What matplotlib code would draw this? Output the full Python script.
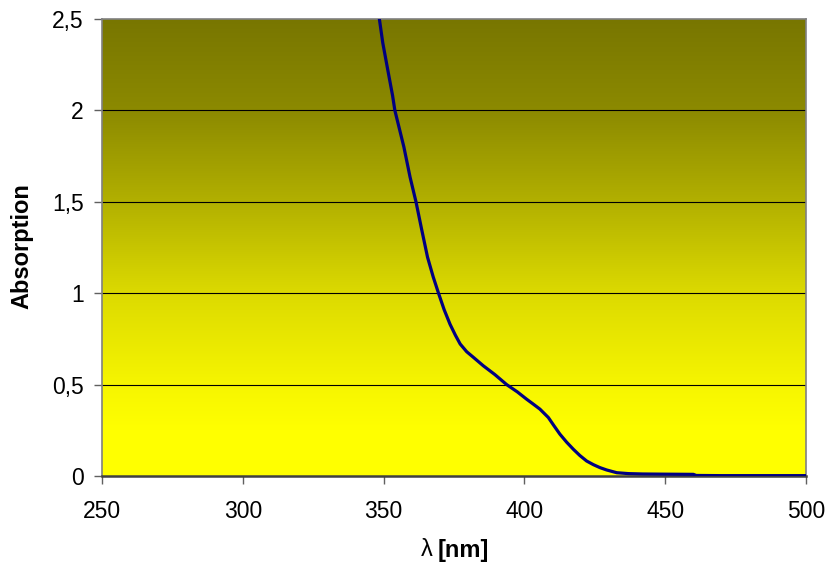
# -*- coding: utf-8 -*-
"""UV/Vis absorption spectrum, Excel style gradient background"""
import numpy as np
import matplotlib; matplotlib.use('Agg')
import matplotlib.pyplot as plt
from matplotlib.colors import LinearSegmentedColormap

plt.rcParams['font.family'] = ['Liberation Sans', 'DejaVu Sans']

# spectrum
wavelength = [346, 348.5, 349.7, 351.5, 353.2, 354.0, 355.6, 357.2, 359.4, 361.5, 363.5,
              365.6, 367.6, 369.5, 371.5, 373.6, 375.5, 377.2, 379.5, 381.9, 385.4,
              389.5, 393.7, 397.5, 400.8, 403.0, 405.5, 408.5, 410.5, 412.6, 415.0,
              417.4, 419.7, 422.1, 424.5, 426.8, 429.2, 432.8, 437.0, 442.0, 450.0,
              460.0, 461.0, 470.0, 480.0, 490.0, 500.0]
absorb = [2.70, 2.50, 2.37, 2.22, 2.08, 2.00, 1.90, 1.80, 1.635, 1.50, 1.35,
          1.197, 1.09, 1.00, 0.91, 0.83, 0.77, 0.722, 0.68, 0.649, 0.603,
          0.555, 0.50, 0.46, 0.42, 0.395, 0.366, 0.32, 0.275, 0.229, 0.185,
          0.146, 0.112, 0.082, 0.062, 0.046, 0.033, 0.018, 0.013, 0.011, 0.010,
          0.009, 0.003, 0.002, 0.002, 0.002, 0.002]

x_ticks = [250, 300, 350, 400, 450, 500]
y_ticks = [0, 0.5, 1, 1.5, 2, 2.5]
y_ticklabels = ['0', '0,5', '1', '1,5', '2', '2,5']

fig = plt.figure(figsize=(8.32, 5.68), dpi=100)
ax = fig.add_axes([102/832, 1-476/568, 704/832, 457/568])

# background gradient (olive top -> yellow bottom)
grad = LinearSegmentedColormap.from_list('bg', [
    (0.00, (120/255, 118/255, 0)),
    (0.20, (140/255, 138/255, 0)),
    (0.40, (178/255, 176/255, 0)),
    (0.60, (220/255, 218/255, 0)),
    (0.80, (246/255, 245/255, 0)),
    (0.90, (1, 1, 0)),
    (1.00, (1, 1, 0))])
ax.imshow(np.linspace(0, 1, 256).reshape(-1, 1), cmap=grad, aspect='auto',
          extent=[250, 500, 0, 2.5], origin='upper', zorder=0)

for yv in y_ticks[1:-1]:
    ax.axhline(yv, color='black', lw=0.8, zorder=1)

ax.plot(wavelength, absorb, color='#000080', lw=2.3, zorder=3, clip_on=True)

ax.set_xlim(250, 500)
ax.set_ylim(0, 2.5)
ax.set_xticks(x_ticks)
ax.set_yticks(y_ticks)
ax.set_yticklabels(y_ticklabels)
ax.tick_params(axis='both', labelsize=16.5, direction='out', length=6, width=1,
               color='#606060')
ax.tick_params(axis='x', pad=11)
ax.tick_params(axis='y', pad=7)

for s in ['top', 'right', 'left']:
    ax.spines[s].set_color('#808080')
    ax.spines[s].set_linewidth(1.2)
ax.spines['bottom'].set_color('#404040')
ax.spines['bottom'].set_linewidth(1.8)

fig.text(22/832, 1-246/568, 'Absorption', rotation=90, ha='center', va='center',
         fontsize=17, fontweight='bold')
fig.text(433/832, 1-550/568, 'λ', ha='right', va='center', fontsize=17)
fig.text(438/832, 1-550/568, '[nm]', ha='left', va='center', fontsize=17,
         fontweight='bold')

plt.savefig('out.png', dpi=100)
plt.close()
